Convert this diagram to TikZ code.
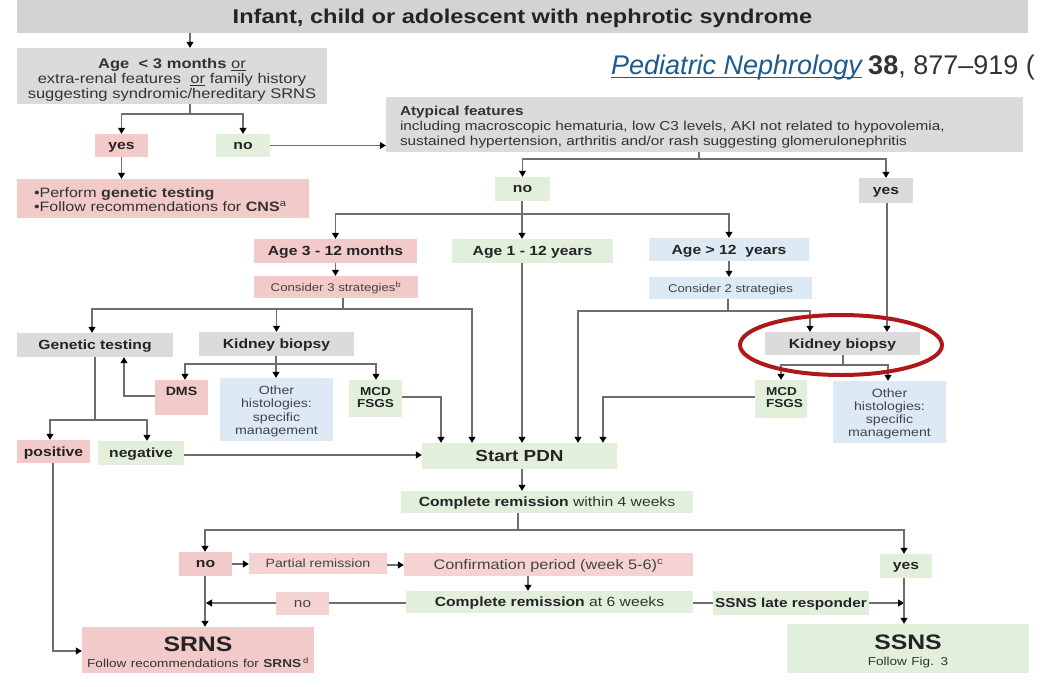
\documentclass[tikz,border=0pt]{standalone}
\usepackage{fontspec}
\setmainfont{Liberation Sans}[FakeStretch=1.18]
\newfontfamily\webfont{Liberation Sans}
\usetikzlibrary{arrows.meta,calc}
\definecolor{gfill}{HTML}{DBDBDB}
\definecolor{tfill}{HTML}{D3D3D3}
\definecolor{pfill}{HTML}{F3CACA}
\definecolor{lpfill}{HTML}{F6D3D3}
\definecolor{grfill}{HTML}{E2EFDA}
\definecolor{bfill}{HTML}{DDEAF6}
\definecolor{lncol}{HTML}{6E6E6E}
\definecolor{txt}{HTML}{242424}
\definecolor{txtl}{HTML}{444444}
\definecolor{linkc}{HTML}{1D5A8E}
\definecolor{darkc}{HTML}{333333}
\definecolor{ringc}{HTML}{B0171B}
\newcommand\fs[2]{\fontsize{#1}{#2}\selectfont}
\begin{document}
\begin{tikzpicture}[x=1pt,y=-1pt,
  bb/.style={inner sep=0pt, text=txt, font=\fs{13.3}{15}\bfseries},
  bx/.style={bb, text depth=0pt},
  gy/.style={bx, fill=gfill}, pk/.style={bx, fill=pfill}, lpk/.style={bx, fill=lpfill},
  gr/.style={bx, fill=grfill}, bl/.style={bx, fill=bfill},
  sz/.style 2 args={minimum width=#1pt, minimum height=#2pt},
  cn/.style={draw=lncol, line width=1.1pt},
  ar/.style={cn, -{Triangle[width=7pt,length=6pt,color=black]}}]
\useasboundingbox (0,0) rectangle (1052,686);

% ---------- nodes ----------
\node[bx, fill=tfill, sz={1011}{34}, font=\fs{20}{22}\bfseries] (title) at (522.5,16) {Infant, child or adolescent with nephrotic syndrome};

\node[bb, fill=gfill, sz={310}{56}, align=center, text width=300pt, font=\fs{14}{15}, text=darkc, text height=18pt] (age) at (172,76)
  {\textbf{Age\ \ < 3 months} \underline{or}\\extra-renal features\ \ \underline{or} family history\\suggesting syndromic/hereditary SRNS};

\node[pk, sz={53}{23}] (yes1) at (121.5,145.5) {yes};
\node[gr, sz={54}{23}] (no1) at (243,145.5) {no};

\node[bb, fill=pfill, sz={292}{39}, align=left, text width=258pt, font=\fs{13.6}{14}, text=darkc, text height=13pt] (cns) at (163,198.5)
  {•Perform \textbf{genetic testing}\\•Follow recommendations for \textbf{CNS}\textsuperscript{a}};

\node[bb, fill=gfill, sz={637}{55}, align=left, text width=609pt, font=\fs{13}{15}, text=darkc, text height=14.5pt] (atyp) at (704.5,124.5)
  {\textbf{Atypical features}\\including macroscopic hematuria, low C3 levels, AKI not related to hypovolemia,\\sustained hypertension, arthritis and/or rash suggesting glomerulonephritis};

\node[anchor=base west, inner sep=0pt, font=\webfont\fs{27}{30}\itshape, text=linkc] (cite1) at (611,74) {Pediatric Nephrology};
\node[anchor=base west, inner sep=0pt, font=\webfont\fs{27}{30}, text=darkc] (cite2) at ($(cite1.base east)+(6,0)$) {\textbf{38}, 877–919 (};

\node[gr, sz={55}{24}] (no2) at (522.5,189) {no};
\node[gy, sz={54}{25}] (yes2) at (886,190.5) {yes};

\node[pk, sz={163}{24}] (age312) at (335.5,251) {Age 3 - 12 months};
\node[gr, sz={161}{24}] (age112) at (532.5,251) {Age 1 - 12 years};
\node[bl, sz={160}{23}] (age12) at (729,249.5) {Age > 12\ \ years};

\node[pk, sz={164}{22}, font=\fs{11.2}{12}, text=txtl] (cons3) at (336,287) {Consider 3 strategies\textsuperscript{b}};
\node[bl, sz={163}{22}, font=\fs{11.2}{12}, text=txtl] (cons2) at (730.5,288) {Consider 2 strategies};

\node[gy, sz={156}{24}] (gen) at (95,345) {Genetic testing};
\node[gy, sz={155}{24}] (kb1) at (276.5,344) {Kidney biopsy};

\node[pk, sz={53}{35}, label={[anchor=north, inner sep=0pt, yshift=-7.5pt, font=\fs{12}{13}\bfseries, text=txt]north:DMS}] (dms) at (181.5,397.5) {};
\node[bb, fill=bfill, sz={113}{63}, align=center, text width=110pt, font=\fs{12}{13.3}, text=txtl, text height=12.5pt] (oth1) at (276.5,409.5) {Other\\histologies:\\specific\\management};
\node[gr, sz={53}{37}, label={[anchor=north, inner sep=0pt, yshift=-7pt, align=center, font=\fs{11.5}{12}\bfseries, text=txt]north:MCD\\FSGS}] (mcd1) at (375.5,398.5) {};

\node[gy, sz={155}{23}] (kb2) at (842.5,343.5) {Kidney biopsy};
\node[gr, sz={52}{38}, label={[anchor=north west, inner sep=0pt, xshift=11pt, yshift=-7pt, align=left, font=\fs{11.5}{12}\bfseries, text=txt]north west:MCD\\FSGS}] (mcd2) at (781,399) {};
\node[bb, fill=bfill, sz={113}{62}, align=center, text width=110pt, font=\fs{12}{13.2}, text=txtl, text height=12.5pt] (oth2) at (889.5,412) {Other\\histologies:\\specific\\management};

\node[pk, sz={73}{23}] (pos) at (53.5,451.5) {positive};
\node[gr, sz={86}{24}] (neg) at (141,453) {negative};
\node[gr, sz={195}{26}, font=\fs{16}{18}\bfseries] (pdn) at (519.5,456) {Start PDN};

\node[gr, sz={292}{22}, font=\fs{13.3}{15}, text=darkc] (cr4) at (547,502) {\textbf{\color{txt}Complete remission} within 4 weeks};

\node[pk, sz={53}{24}] (no3) at (205.5,564) {no};
\node[lpk, sz={138}{21}, font=\fs{12}{13}, text=txtl] (partial) at (318,563.5) {Partial remission};
\node[lpk, sz={289}{23}, font=\fs{13.8}{15}, text=txtl] (conf) at (548.5,564.5) {Confirmation period (week 5-6)\textsuperscript{c}};
\node[gr, sz={287}{22}, font=\fs{13.3}{15}, text=darkc] (cr6) at (549.5,602) {\textbf{\color{txt}Complete remission} at 6 weeks};
\node[lpk, sz={53}{23}, font=\fs{13}{15}, text=txtl] (no4) at (302.5,603.5) {no};
\node[gr, sz={156}{24}, font=\fs{13}{15}\bfseries] (late) at (791,603) {SSNS late responder};
\node[gr, sz={52}{24}] (yes3) at (906,566) {yes};

\node[bb, fill=pfill, sz={232}{46}, align=center, text width=230pt, text height=20pt] (srns) at (198,650)
  {{\fs{21}{20}\bfseries SRNS}\\[1pt]{\fs{11.5}{13}\mdseries\color{darkc}Follow recommendations for \textbf{SRNS}\,\textsuperscript{d}}};
\node[bb, fill=grfill, sz={242}{49}, align=center, text width=240pt, text height=20pt] (ssns) at (908,648.5)
  {{\fs{21}{20}\bfseries SSNS}\\[1pt]{\fs{11.5}{13}\mdseries\color{darkc}Follow Fig. 3}};

% ---------- underline of the citation ----------
\draw[linkc, line width=1pt] ([yshift=-3pt]cite1.base west) -- ([yshift=-3pt]cite1.base east);

% ---------- connectors ----------
\draw[ar] (title.south -| 190,0) -- (age.north -| 190,0);
\coordinate (j1) at (190,114);
\draw[cn] (age.south -| j1) -- (j1);
\draw[ar] (j1) -| (yes1.north);
\draw[ar] (j1) -| (no1.north);
\draw[ar] (yes1.south) -- (yes1.south |- cns.north);
\draw[ar] (no1.east) -- (no1.east -| atyp.west);

\coordinate (j2) at (699,159);
\draw[cn] (atyp.south -| j2) -- (j2);
\draw[ar] (j2) -| (no2.north);
\draw[ar] (j2) -| (yes2.north);

\coordinate (j3) at (522,214);
\draw[cn] (no2.south -| j3) -- (j3);
\draw[ar] (j3) -| (age312.north);
\draw[ar] (j3) -- (age112.north -| j3);
\draw[ar] (j3) -| (age12.north);

\draw[ar] (age312.south) -- (age312.south |- cons3.north);
\draw[ar] (age12.south) -- (age12.south |- cons2.north);

\coordinate (j4) at (343,309);
\draw[cn] (cons3.south -| j4) -- (j4);
\draw[ar] (j4) -| (gen.north -| 92,0);
\draw[ar] (j4) -| (kb1.north);
\draw[ar] (j4) -| (pdn.north -| 472,0);

\draw[ar] (age112.south -| j3) -- (pdn.north -| j3);

\coordinate (j5) at (728,311);
\draw[cn] (cons2.south -| j5) -- (j5);
\draw[ar] (j5) -| (pdn.north -| 578,0);
\draw[ar] (j5) -| (kb2.north -| 810,0);
\draw[ar] (yes2.south -| 887,0) -- (kb2.north -| 887,0);

\coordinate (j6) at (276,364);
\draw[cn] (kb1.south -| j6) -- (j6);
\draw[ar] (j6) -| (dms.north -| 185,0);
\draw[ar] (j6) -- (oth1.north -| j6);
\draw[ar] (j6) -| (mcd1.north -| 376,0);

\draw[ar] (dms.west |- 0,396) -| (gen.south -| 124,0);
\draw[ar] (mcd1.east |- 0,397) -| (pdn.north -| 441,0);

\coordinate (j7) at (843,365);
\draw[cn] (kb2.south -| j7) -- (j7);
\draw[ar] (j7) -| (mcd2.north);
\draw[ar] (j7) -| (oth2.north -| 888,0);
\draw[ar] (mcd2.west |- 0,397) -| (pdn.north -| 603,0);

\coordinate (j8) at (95,420);
\draw[cn] (gen.south -| j8) -- (j8);
\draw[ar] (j8) -| (pos.north -| 50,0);
\draw[ar] (j8) -| (neg.north -| 147,0);
\draw[ar] (neg.east |- 0,455) -- (pdn.west |- 0,455);

\draw[ar] (pdn.south -| 522,0) -- (cr4.north -| 522,0);
\coordinate (j9) at (518,530);
\draw[cn] (cr4.south -| j9) -- (j9);
\draw[ar] (j9) -| (no3.north -| 205,0);
\draw[ar] (j9) -| (yes3.north -| 904,0);
\draw[ar] (no3.east |- 0,564) -- (partial.west |- 0,564);
\draw[ar] (partial.east |- 0,565) -- (conf.west |- 0,565);
\draw[ar] (conf.south -| 528,0) -- (cr6.north -| 528,0);
\draw[cn] (cr6.west |- 0,603) -- (no4.east |- 0,603);
\coordinate (m1) at (206,603);
\draw[ar] (no4.west |- m1) -- (m1);
\draw[ar] (no3.south -| 205,0) -- (srns.north -| 205,0);
\draw[ar] (pos.south -| 53,0) |- (srns.west |- 0,651);
\draw[cn] (cr6.east |- 0,603) -- (late.west |- 0,603);
\coordinate (m2) at (904,603);
\draw[ar] (late.east |- m2) -- (m2);
\draw[ar] (yes3.south -| 904,0) -- (ssns.north -| 904,0);

% ---------- highlight ring ----------
\draw[ringc, line width=4pt] (kb2.center) ++(-1.5,1.5) ellipse [x radius=101pt, y radius=30pt];
\end{tikzpicture}
\end{document}
